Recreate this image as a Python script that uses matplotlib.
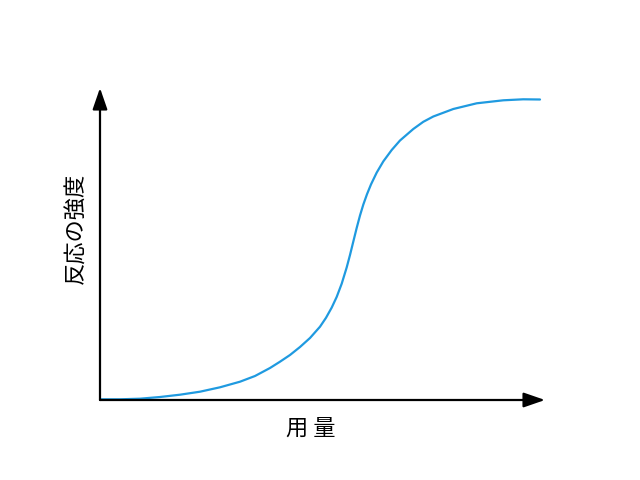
import matplotlib
matplotlib.use('Agg')
import matplotlib.pyplot as plt

plt.rcParams['font.family'] = ['Noto Sans CJK JP', 'DejaVu Sans']

# dose-response curve (arbitrary units)
dose = [0, 20, 40, 60, 80, 100, 120, 140, 155, 170, 180, 190, 200, 210,
        220, 226, 231.7, 236.7, 241.7, 246.7, 250, 253.3, 256.7, 260,
        263.3, 267, 271, 276.7, 283.3, 291.7, 300, 313.3, 323.3, 333.3,
        353.3, 376.7, 403.3, 423.3, 440]
response = [0.7, 0.7, 1.3, 3, 5.3, 8.3, 12.7, 18.3, 24, 32, 38.3, 45,
            53, 62, 73.3, 82.2, 92.4, 103.1, 116.3, 132.6, 145, 158.4,
            172.1, 184.5, 195.4, 205.8, 215.6, 227.4, 238.6, 250, 259.5,
            271, 278.2, 283.5, 291, 296.7, 299.7, 300.7, 300.5]

x_label = '用 量'
y_label = '反応の強度'

fig = plt.figure(figsize=(6.4, 4.8), dpi=100)
ax = fig.add_axes([100/640, 80/480, 445/640, 312/480])
ax.set_xlim(0, 445)
ax.set_ylim(0, 312)

ax.plot(dose, response, color='#1f9ae0', lw=1.6, solid_capstyle='round',
        solid_joinstyle='round')

for s in ax.spines.values():
    s.set_visible(False)
ax.set_xticks([])
ax.set_yticks([])

arrow = dict(arrowstyle='-|>,head_length=1.3,head_width=0.45', color='black',
             lw=1.6, shrinkA=0, shrinkB=0)
ax.annotate('', xy=(1, 0), xytext=(0, 0), xycoords='axes fraction',
            arrowprops=arrow, annotation_clip=False)
ax.annotate('', xy=(0, 1), xytext=(0, 0), xycoords='axes fraction',
            arrowprops=arrow, annotation_clip=False)

fig.text(311/640, 1 - 428/480, x_label, fontsize=16, ha='center', va='center')
fig.text(76/640, 1 - 228/480, y_label, fontsize=16, ha='center', va='center',
         rotation=90)

fig.savefig('out.png', dpi=100)
